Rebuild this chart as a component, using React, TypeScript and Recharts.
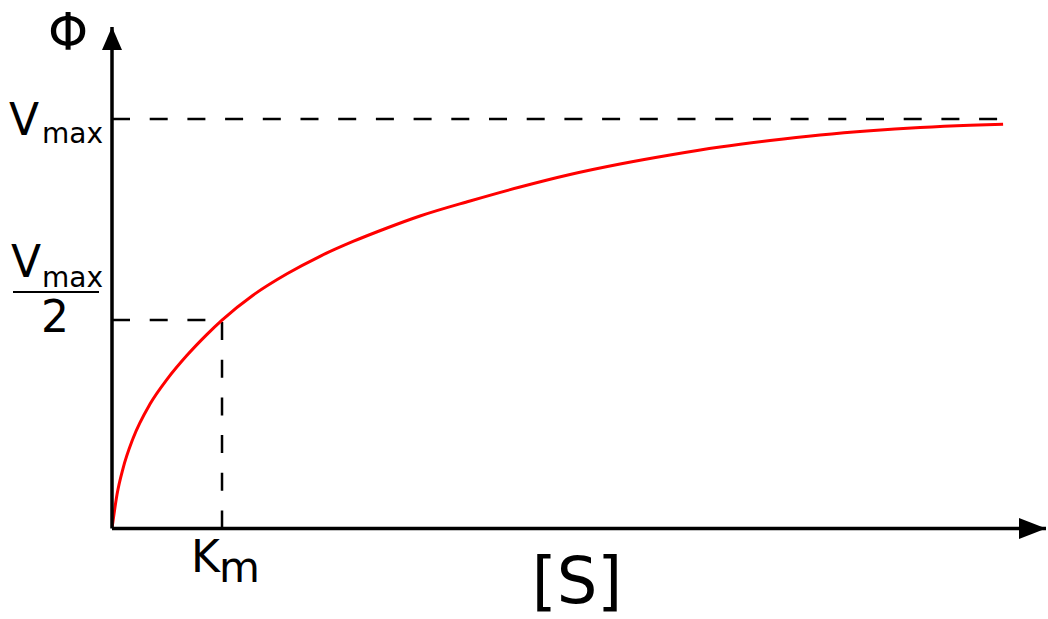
import React from "react";
import {
  LineChart, Line, XAxis, YAxis, ReferenceLine, ReferenceDot, Label,
} from "recharts";

// substrate concentration [S] in units of Km, rate Φ in units of Vmax
const S_VALUES = [
  0, 0.0455, 0.1, 0.1909, 0.3455, 0.5, 0.6818, 0.8636, 1.0, 1.2818, 1.5909,
  1.8909, 2.1909, 2.5, 2.8, 3.2545, 3.7091, 4.1636, 4.6182, 5.0727, 5.5273,
  5.9818, 6.4364, 6.8909, 7.3455, 7.8, 8.1,
];
const PHI_VALUES = [
  0, 0.083, 0.1465, 0.2198, 0.304, 0.3643, 0.423, 0.4742, 0.509, 0.5697,
  0.622, 0.6647, 0.7009, 0.7338, 0.7631, 0.7998, 0.8339, 0.8645, 0.8901,
  0.9121, 0.9316, 0.9475, 0.9609, 0.9713, 0.9792, 0.9847, 0.9872,
];

const KM = 1;
const VMAX = 1;
const HALF = 0.509;
const S_LAST = 8.1;
const X_END = 8.49;
const Y_END = 1.2247;

const FONT = "DejaVu Sans";
const DASH = "18 19.7";

const data = S_VALUES.map((s, i) => ({ s, phi: PHI_VALUES[i] }));

function YTick(props: any) {
  const { y, payload } = props;
  if (payload.value === VMAX) {
    return (
      <g fontFamily={FONT} fill="#000">
        <text x={9} y={y + 16} fontSize={44}>V</text>
        <text x={42} y={y + 24} fontSize={28}>max</text>
      </g>
    );
  }
  return (
    <g fontFamily={FONT} fill="#000">
      <text x={11} y={y - 43} fontSize={44}>V</text>
      <text x={42} y={y - 33} fontSize={28}>max</text>
      <line x1={13} x2={99} y1={y - 28} y2={y - 28} stroke="#000" strokeWidth={2} />
      <text x={55} y={y + 12} fontSize={44} textAnchor="middle">2</text>
    </g>
  );
}

function XTick(props: any) {
  const { x } = props;
  return (
    <g fontFamily={FONT} fill="#000">
      <text x={x - 31} y={572} fontSize={44}>K</text>
      <text x={x - 3} y={582} fontSize={42}>m</text>
    </g>
  );
}

export default function App() {
  return (
    <div style={{ position: "absolute", left: 0, top: 0, background: "#fff" }}>
      <LineChart
        width={1048}
        height={619}
        data={data}
        margin={{ top: 27, right: 2, bottom: 0, left: 0 }}
      >
        <XAxis
          type="number"
          dataKey="s"
          domain={[0, X_END]}
          ticks={[KM]}
          interval={0}
          allowDataOverflow
          height={90.5}
          tickLine={false}
          axisLine={{ stroke: "#000", strokeWidth: 3.5 }}
          tick={<XTick />}
        >
          <Label
            content={() => (
              <text x={577} y={603} fontSize={64} fontFamily={FONT} textAnchor="middle" fill="#000">
                [S]
              </text>
            )}
          />
        </XAxis>
        <YAxis
          type="number"
          domain={[0, Y_END]}
          ticks={[HALF, VMAX]}
          interval={0}
          allowDataOverflow
          width={112}
          tickLine={false}
          axisLine={{ stroke: "#000", strokeWidth: 3.5 }}
          tick={<YTick />}
        >
          <Label
            content={() => (
              <text x={68} y={50} fontSize={51} fontFamily={FONT} textAnchor="middle" fill="#000">
                Φ
              </text>
            )}
          />
        </YAxis>
        <ReferenceLine
          segment={[{ x: 0, y: VMAX }, { x: S_LAST, y: VMAX }]}
          stroke="#000"
          strokeWidth={2.5}
          strokeDasharray={DASH}
        />
        <ReferenceLine
          segment={[{ x: 0, y: HALF }, { x: KM, y: HALF }]}
          stroke="#000"
          strokeWidth={2.5}
          strokeDasharray={DASH}
        />
        <ReferenceLine
          segment={[{ x: KM, y: 0 }, { x: KM, y: HALF }]}
          stroke="#000"
          strokeWidth={2.5}
          strokeDasharray={DASH}
        />
        <Line
          type="monotone"
          dataKey="phi"
          stroke="#ff0000"
          strokeWidth={3}
          dot={false}
          isAnimationActive={false}
        />
        <ReferenceDot
          x={X_END}
          y={0}
          ifOverflow="visible"
          shape={(p: any) => (
            <polygon
              points={`${p.cx - 27},${p.cy - 10.5} ${p.cx},${p.cy} ${p.cx - 27},${p.cy + 10.5}`}
              fill="#000"
            />
          )}
        />
        <ReferenceDot
          x={0}
          y={Y_END}
          ifOverflow="visible"
          shape={(p: any) => (
            <polygon
              points={`${p.cx - 10},${p.cy + 23} ${p.cx},${p.cy} ${p.cx + 10},${p.cy + 23}`}
              fill="#000"
            />
          )}
        />
      </LineChart>
    </div>
  );
}
